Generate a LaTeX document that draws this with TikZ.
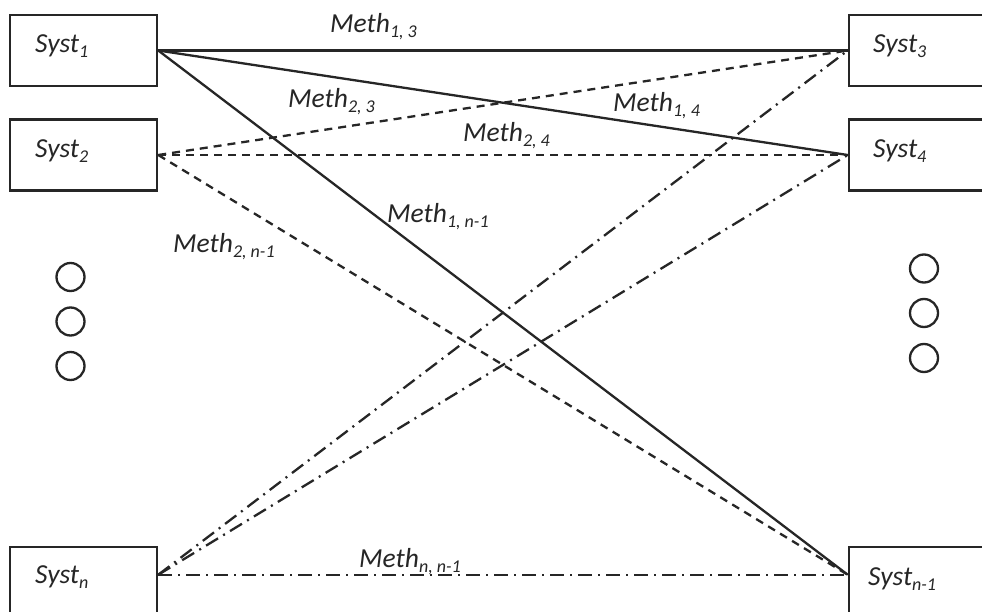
\documentclass[tikz,border=0pt]{standalone}
\usepackage{fontspec}
\setmainfont{Carlito}
\newcommand\sbx[1]{\raisebox{-5pt}{\fontsize{18}{19}\selectfont #1}}
\begin{document}
\begin{tikzpicture}[x=1pt,y=-1pt,
  box/.style={draw=black!85, line width=2.5pt, rectangle, minimum width=147pt, minimum height=71pt, inner sep=0pt},
  rbox/.style={box, minimum width=170pt},
  bbox/.style={box, minimum height=100pt},
  rbbox/.style={rbox, minimum height=100pt},
  lbl/.style={anchor=base west, inner sep=0pt, text=black!85, font=\fontsize{27.5}{30}\selectfont\itshape},
  solidline/.style={draw=black!85, line width=2.3pt},
  dashline/.style={draw=black!85, line width=2.3pt, dash pattern=on 8pt off 6pt},
  dashdotline/.style={draw=black!85, line width=2.3pt, dash pattern=on 14pt off 6pt on 2pt off 6pt},
  dotc/.style={draw=black!85, circle, minimum size=28pt, inner sep=0pt, line width=2.3pt}]
\clip (0,0) rectangle (982,612);
\fill[white] (0,0) rectangle (982,612);
% boxes
\node[box] (s1box) at (83.5,50.5) {};
\node[box] (s2box) at (83.5,155) {};
\node[bbox] (snbox) at (83.5,597) {};
\node[rbox] (s3box) at (934,50.5) {};
\node[rbox] (s4box) at (934,155) {};
\node[rbbox] (sn1box) at (934,597) {};
\coordinate (pn) at ([yshift=-29pt]snbox.north east);
\coordinate (pn1) at ([yshift=-29pt]sn1box.north west);
% box texts
\node[lbl] (t1) at (35,53) {Syst\sbx{1}};
\node[lbl] (t2) at (35,158) {Syst\sbx{2}};
\node[lbl] (tn) at (35,583) {Syst\sbx{n}};
\node[lbl] (t3) at (873,53) {Syst\sbx{3}};
\node[lbl] (t4) at (873,158) {Syst\sbx{4}};
\node[lbl] (tn1) at (868,585) {Syst\sbx{n-1}};
% connectors
\draw[solidline] (s1box.east) -- (s3box.west);
\draw[solidline] (s1box.east) -- (s4box.west);
\draw[solidline] (s1box.east) -- (pn1);
\draw[dashline] (s2box.east) -- (s3box.west);
\draw[dashline] (s2box.east) -- (s4box.west);
\draw[dashline] (s2box.east) -- (pn1);
\draw[dashdotline] (pn) -- (s3box.west);
\draw[dashdotline] (pn) -- (s4box.west);
\draw[dashdotline] (pn) -- (pn1);
% connector labels
\node[lbl] (m13) at (330,33) {Meth\sbx{1, 3}};
\node[lbl] (m23) at (288,108) {Meth\sbx{2, 3}};
\node[lbl] (m14) at (613,112) {Meth\sbx{1, 4}};
\node[lbl] (m24) at (463,142) {Meth\sbx{2, 4}};
\node[lbl] (m1n) at (387,223) {Meth\sbx{1, n-1}};
\node[lbl] (m2n) at (173,253) {Meth\sbx{2, n-1}};
\node[lbl] (mnn) at (359,567) {Meth\sbx{n, n-1}};
% ellipsis circles
\node[dotc] (cl1) at (70.5,277) {};
\node[dotc] (cl2) at (70.5,321.5) {};
\node[dotc] (cl3) at (70.5,366) {};
\node[dotc] (cr1) at (924,268.5) {};
\node[dotc] (cr2) at (924,313) {};
\node[dotc] (cr3) at (924,358) {};
\end{tikzpicture}
\end{document}
